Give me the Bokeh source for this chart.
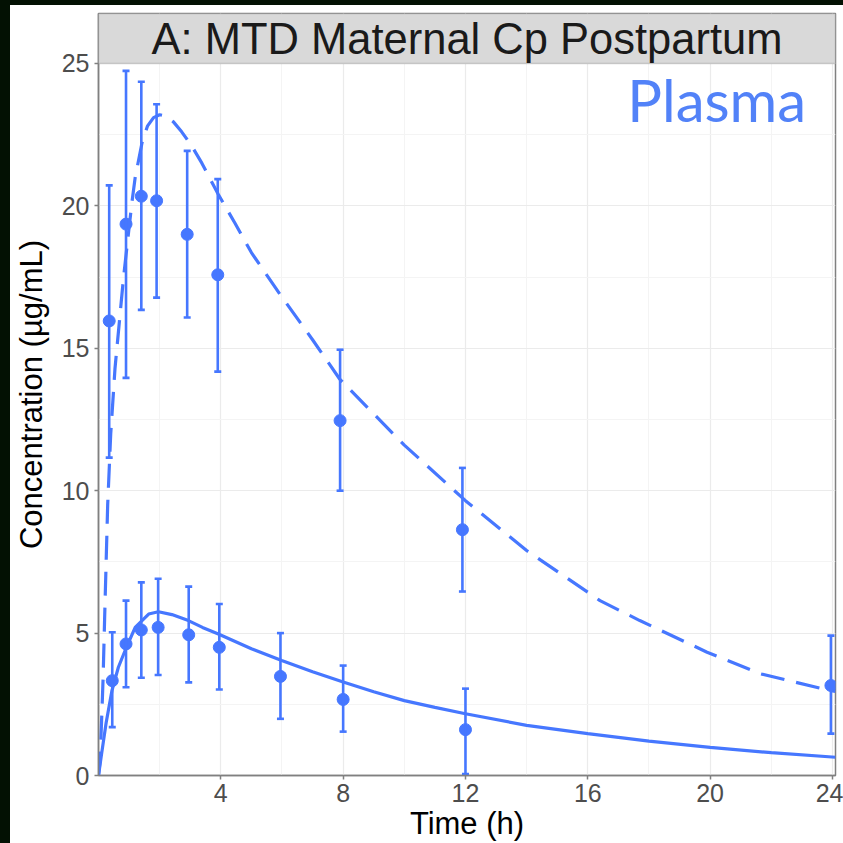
from bokeh.plotting import figure
from bokeh.models import Range1d, FixedTicker, BoxAnnotation, Label, Whisker, ColumnDataSource, TeeHead, Div
from bokeh.layouts import column, row
from bokeh.embed import file_html
from bokeh.resources import INLINE

# ---------------- data ----------------
# observed (upper group, dashed model)
t_hi = [0.35, 0.9, 1.4, 1.9, 2.9, 3.9, 7.9, 11.9, 23.95]
hi_mean = [15.96, 19.36, 20.34, 20.18, 19.0, 17.58, 12.46, 8.63, 3.16]
hi_upper = [20.72, 24.74, 24.36, 23.57, 21.93, 20.94, 14.95, 10.8, 4.91]
hi_lower = [11.16, 13.96, 16.35, 16.78, 16.08, 14.18, 10.0, 6.46, 1.47]

# observed (lower group, solid model)
t_lo = [0.45, 0.9, 1.4, 1.95, 2.95, 3.95, 5.95, 8.0, 12.0]
lo_mean = [3.33, 4.62, 5.11, 5.2, 4.94, 4.5, 3.48, 2.67, 1.61]
lo_upper = [5.03, 6.14, 6.78, 6.91, 6.63, 6.02, 5.0, 3.86, 3.05]
lo_lower = [1.7, 3.1, 3.43, 3.53, 3.27, 3.02, 1.99, 1.54, 0.05]

# model predictions
dash_t = [0, 0.05, 0.1, 0.15, 0.2, 0.3, 0.4, 0.54, 0.82, 1.09, 1.2, 1.42, 1.6, 1.8, 2.0,
          2.2, 2.45, 2.72, 3.05, 3.38, 3.92, 4.46, 5.0, 5.93, 7.0, 7.88, 10.0, 12.0, 14.0,
          16.4, 17.7, 19.9, 21.65, 23.7, 24.1]
dash_c = [0, 0.5, 1.9, 3.4, 5.5, 9.5, 12.0, 14.3, 17.5, 20.1, 21.0, 22.2, 22.8, 23.1, 23.2,
          23.15, 22.95, 22.6, 22.1, 21.5, 20.4, 19.4, 18.36, 16.9, 15.3, 13.93, 11.6, 9.65,
          7.9, 6.14, 5.44, 4.33, 3.57, 3.04, 2.95]

solid_t = [0, 0.1, 0.25, 0.44, 0.65, 0.87, 1.2, 1.64, 1.96, 2.4, 2.94, 3.4, 3.92, 5.0,
           5.99, 7.0, 8.0, 9.0, 10.0, 11.0, 12.0, 14.0, 16.0, 18.0, 20.0, 22.0, 24.1]
solid_c = [0, 0.75, 1.85, 2.98, 3.8, 4.39, 5.2, 5.67, 5.75, 5.65, 5.44, 5.2, 4.97, 4.45,
           4.04, 3.64, 3.28, 2.94, 2.63, 2.39, 2.17, 1.76, 1.47, 1.21, 0.99, 0.8, 0.64]

x_ticks = [4, 8, 12, 16, 20, 24]
x_minor = [2, 6, 10, 14, 18, 22]
y_ticks = [0, 5, 10, 15, 20, 25]
y_minor = [2.5, 7.5, 12.5, 17.5, 22.5]

title_text = "A: MTD Maternal Cp Postpartum"
tag_text = "Plasma"

X_MIN, X_MAX = 0, 24.1
Y_MIN, Y_TOP, Y_MAX = 0, 25, 26.755

BLUE = "#4677FF"
BORDER = "#808080"
DARK = "#031103"

p = figure(width=833, height=838, output_backend="svg", toolbar_location=None,
           x_range=Range1d(X_MIN, X_MAX), y_range=Range1d(Y_MIN, Y_MAX),
           min_border_left=86, min_border_right=8, min_border_top=8, min_border_bottom=68,
           margin=0)

p.background_fill_color = "white"
p.border_fill_color = "white"
p.outline_line_color = BORDER
p.outline_line_width = 1.5

for ax in (p.xaxis[0], p.yaxis[0]):
    ax.axis_line_color = BORDER
    ax.axis_line_width = 1.5
    ax.major_tick_line_color = BORDER
    ax.major_tick_line_width = 1.5
    ax.major_tick_out = 4
    ax.major_tick_in = 0
    ax.minor_tick_out = 0
    ax.minor_tick_in = 0
    ax.major_label_text_font = "Liberation Sans"
    ax.major_label_text_font_size = "25px"
    ax.major_label_text_color = "#4D4D4D"
    ax.axis_label_text_font = "Liberation Sans"
    ax.axis_label_text_font_size = "31px"
    ax.axis_label_text_font_style = "normal"
    ax.axis_label_text_color = "black"

p.xaxis.ticker = FixedTicker(ticks=x_ticks, minor_ticks=x_minor)
p.yaxis.ticker = FixedTicker(ticks=y_ticks, minor_ticks=y_minor)
p.xaxis.axis_label = "Time (h)"
p.yaxis.axis_label = "Concentration (µg/mL)"
p.xaxis.major_label_standoff = 4
p.yaxis.major_label_standoff = 5
p.xaxis.axis_label_standoff = 1
p.yaxis.axis_label_standoff = 10

p.xgrid.grid_line_color = "#EBEBEB"
p.ygrid.grid_line_color = "#EBEBEB"
p.xgrid.grid_line_width = 1.2
p.ygrid.grid_line_width = 1.2
p.xgrid.minor_grid_line_color = "#F4F4F4"
p.ygrid.minor_grid_line_color = "#F4F4F4"
p.xgrid.minor_grid_line_width = 1
p.ygrid.minor_grid_line_width = 1

# model lines
p.line(dash_t, dash_c, line_color=BLUE, line_width=3.2, line_dash="24 12")
p.line(solid_t, solid_c, line_color=BLUE, line_width=3.2)

# error bars
for tt, lo, hi, mn in ((t_hi, hi_lower, hi_upper, hi_mean), (t_lo, lo_lower, lo_upper, lo_mean)):
    src = ColumnDataSource(dict(x=tt, lower=lo, upper=hi, y=mn))
    w = Whisker(source=src, base="x", lower="lower", upper="upper", dimension="height",
                line_color=BLUE, line_width=2.6,
                upper_head=TeeHead(size=7, line_color=BLUE, line_width=2.6),
                lower_head=TeeHead(size=7, line_color=BLUE, line_width=2.6),
                level="glyph")
    p.add_layout(w)
    p.scatter("x", "y", source=src, size=12, fill_color=BLUE, line_color=BLUE)

# strip on top
strip = BoxAnnotation(bottom=Y_TOP, fill_color="#D9D9D9", fill_alpha=1,
                      line_color=BORDER, line_width=1.5)
p.add_layout(strip)
p.add_layout(Label(x=(X_MIN + X_MAX) / 2, y=Y_TOP + 0.48 * (Y_MAX - Y_TOP), text=title_text,
                   text_align="center", text_baseline="middle",
                   text_font="Liberation Sans", text_font_size="43.5px", text_color="#1A1A1A"))

p.add_layout(Label(x=23.14, y=23.75, text=tag_text, text_align="right",
                   text_baseline="middle", text_font="Lato",
                   text_font_size="58px", text_color="#5282F8"))

top_bar = Div(width=843, height=5, margin=0, styles={"background-color": DARK})
left_bar = Div(width=10, height=838, margin=0, styles={"background-color": DARK})
layout = column(top_bar, row(left_bar, p, spacing=0, margin=0), spacing=0, margin=0)

open("out.html", "w").write(file_html(layout, INLINE))
